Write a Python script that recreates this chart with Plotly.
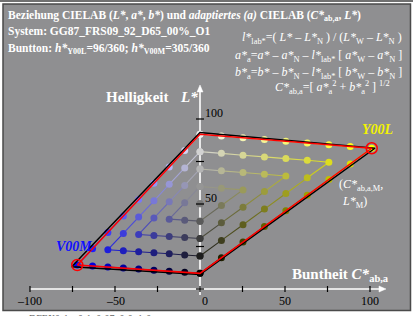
import plotly.graph_objects as go

# ---------------- data ----------------
# Right triangle (Y00L): chevron series, each from upper grey point via turning point to lower grey point
Y_C = [
    [0, 12.6, 25.3, 37.9, 50.5, 63.1, 75.8, 88.4, 101.0, 88.4, 75.8, 63.1, 50.5, 37.9, 25.3, 12.6, 0],
    [0, 12.6, 25.3, 37.9, 50.5, 63.1, 75.8, 63.1, 50.5, 37.9, 25.3, 12.6, 0],
    [0, 12.6, 25.3, 37.9, 50.5, 37.9, 25.3, 12.6, 0],
    [0, 12.6, 25.3, 12.6, 0],
    [0],
]
Y_L = [
    [91.0, 90.0, 89.0, 87.9, 86.9, 85.9, 84.9, 83.8, 82.8, 73.6, 64.4, 55.2, 46.0, 36.8, 27.6, 18.4, 9.2],
    [80.8, 79.8, 78.7, 77.7, 76.7, 75.7, 74.6, 65.4, 56.2, 47.0, 37.8, 28.6, 19.4],
    [70.6, 69.5, 68.5, 67.5, 66.5, 57.3, 48.1, 38.9, 29.7],
    [60.3, 59.3, 58.3, 49.1, 39.9],
    [50.1],
]
# Left triangle (V00M)
V_C = [
    [0, -9.0, -18.1, -27.1, -36.1, -45.1, -54.2, -63.2, -72.2, -63.2, -54.2, -45.1, -36.1, -27.1, -18.1, -9.0, 0],
    [0, -9.0, -18.1, -27.1, -36.1, -45.1, -54.2, -45.1, -36.1, -27.1, -18.1, -9.0, 0],
    [0, -9.0, -18.1, -27.1, -36.1, -27.1, -18.1, -9.0, 0],
    [0, -9.0, -18.1, -9.0, 0],
    [0],
]
V_L = [
    [91.0, 81.4, 71.8, 62.2, 52.6, 42.9, 33.3, 23.7, 14.1, 13.5, 12.9, 12.3, 11.7, 11.0, 10.4, 9.8, 9.2],
    [80.8, 71.2, 61.6, 51.9, 42.3, 32.7, 23.1, 22.5, 21.9, 21.3, 20.7, 20.0, 19.4],
    [70.6, 60.9, 51.3, 41.7, 32.1, 31.5, 30.9, 30.3, 29.7],
    [60.3, 50.7, 41.1, 40.5, 39.9],
    [50.1],
]
# outlines
BLACK_C = [-75.5, 0, 102.9, 0, -75.5]
BLACK_L = [13.1, 92.0, 82.8, 8.6, 13.1]
RED_C = [-72.2, 0, 101.0, 0, -72.2]
RED_L = [14.1, 91.0, 82.8, 9.2, 14.1]
CORNER_C = [-72.2, 101.0]
CORNER_L = [14.1, 82.8]

X_TICKS = [-100, -75, -50, -25, 0, 25, 50, 75, 100]
X_LABELS = {-100: "\u2013100", -50: "\u201350", 0: "0", 50: "50", 100: "100"}
Y_TICKS = [0, 25, 50, 75, 100]
Y_LABELS = {50: "50", 100: "100"}

# ---------------- geometry helpers ----------------
W, H = 413, 316
X0, Y0, S = 200.0, 289.0, 1.7   # pixel of origin, px per unit


def px(x):
    return x / W


def py(y):
    return 1 - y / H


FONT = "Liberation Serif"
fig = go.Figure()

BLACK_RGB = (0, 0, 0)
WHITE_RGB = (240, 240, 240)


def mix_fracs(k):
    """(n, w, c) counts along chevron k."""
    out = []
    for c in range(0, 9 - 2 * k):
        out.append((k, 8 - k - c, c))
    for n in range(k + 1, 9 - k):
        out.append((n, k, 8 - k - n))
    return out


def rgb(f, col):
    n, w, c = f
    vals = [(n * BLACK_RGB[i] + w * WHITE_RGB[i] + c * col[i]) / 8 for i in range(3)]
    return vals


def tocss(v):
    return "rgb(%d,%d,%d)" % tuple(int(round(x)) for x in v)


def draw_side(CC, LL, col):
    mx, my, mc = [], [], []
    for k in range(len(CC)):
        fr = mix_fracs(k)
        cols = [rgb(f, col) for f in fr]
        for i in range(len(CC[k]) - 1):
            avg = [(cols[i][j] + cols[i + 1][j]) / 2 for j in range(3)]
            fig.add_trace(go.Scatter(x=[CC[k][i], CC[k][i + 1]], y=[LL[k][i], LL[k][i + 1]],
                                     mode="lines", line=dict(color=tocss(avg), width=1.1),
                                     hoverinfo="skip"))
        mx += CC[k]
        my += LL[k]
        mc += [tocss(c) for c in cols]
    return mx, my, mc


vx, vy, vc = draw_side(V_C, V_L, (0, 0, 255))
yx, yy, yc = draw_side(Y_C, Y_L, (255, 255, 0))
fig.add_trace(go.Scatter(x=vx + yx, y=vy + yy, mode="markers",
                         marker=dict(size=7, color=vc + yc, line=dict(width=0)),
                         hoverinfo="skip"))
fig.add_trace(go.Scatter(x=BLACK_C, y=BLACK_L, mode="lines",
                         line=dict(color="black", width=1.5), hoverinfo="skip"))
fig.add_trace(go.Scatter(x=RED_C, y=RED_L, mode="lines",
                         line=dict(color="red", width=1.5), hoverinfo="skip"))
fig.add_trace(go.Scatter(x=CORNER_C, y=CORNER_L, mode="markers",
                         marker=dict(size=11, color="rgba(0,0,0,0)", line=dict(color="red", width=1.5)),
                         hoverinfo="skip"))

# ---------------- shapes ----------------
shapes = []
shapes.append(dict(type="rect", xref="paper", yref="paper", x0=px(3), x1=px(410.5), y0=py(310.5), y1=py(4),
                   fillcolor="#8f8f91", line=dict(color="#4a4a4a", width=1.5), layer="below"))
shapes.append(dict(type="line", xref="paper", yref="paper", x0=0, x1=1, y0=py(1), y1=py(1),
                   line=dict(color="#707070", width=2), layer="below"))
# axes
u = 1 / S
shapes.append(dict(type="line", x0=-100, x1=106, y0=0, y1=0, line=dict(color="white", width=1.6), layer="below"))
shapes.append(dict(type="path", path="M %f,%f L %f,%f L %f,%f Z" % (
    109.4, 0, 105.3, 3 * u, 105.3, -3 * u), fillcolor="white", line=dict(color="white", width=0.5), layer="below"))
shapes.append(dict(type="line", x0=0, x1=0, y0=-3.5, y1=117, line=dict(color="white", width=1.6), layer="below"))
shapes.append(dict(type="path", path="M %f,%f L %f,%f L %f,%f Z" % (
    0, 120.0, 3 * u, 115.9, -3 * u, 115.9), fillcolor="white", line=dict(color="white", width=0.5), layer="below"))
for t in X_TICKS:
    shapes.append(dict(type="line", x0=t, x1=t, y0=-3 * u, y1=3 * u, line=dict(color="black", width=1.2)))
for t in Y_TICKS:
    shapes.append(dict(type="line", x0=-4 * u, x1=4 * u, y0=t, y1=t, line=dict(color="black", width=1.2)))

annotations = []


def ann(text, x, y, size, color="white", xanchor="left", yanchor="middle"):
    annotations.append(dict(text=text, xref="paper", yref="paper", x=px(x), y=py(y), showarrow=False,
                            xanchor=xanchor, yanchor=yanchor, align="left",
                            font=dict(family=FONT, size=size, color=color)))


for t, lab in X_LABELS.items():
    ann(lab, X0 + S * t + (5 if t == 0 else 0), 301, 12, "black", "center")
for t, lab in Y_LABELS.items():
    ann(lab, 202.5, Y0 - S * t - 6, 12, "black", "left")

ann("<b>Beziehung CIELAB (<i>L*</i>, <i>a*</i>, <i>b*</i>) und <i>adaptiertes (a)</i> CIELAB "
    "(<i>C*</i><sub>ab,a</sub>, <i>L*</i>)</b>", 6, 16, 11.5)
ann("<b>System: GG87_FRS09_92_D65_00%_O1</b>", 6, 32, 11.5)
ann("<b>Buntton: <i>h*</i><sub>Y00L</sub>=96/360; <i>h*</i><sub>V00M</sub>=305/360</b>", 6, 49, 11.5)
ann("<i>l*</i><sub>lab*</sub>=( <i>L*</i> \u2013 <i>L*</i><sub>N</sub> ) / (<i>L*</i><sub>W</sub> \u2013 <i>L*</i><sub>N</sub> )",
    404, 38, 12, "white", "right")
ann("<i>a*</i><sub>a</sub>=<i>a*</i> \u2013 <i>a*</i><sub>N</sub> \u2013 <i>l*</i><sub>lab*</sub> [ <i>a*</i><sub>W</sub> \u2013 <i>a*</i><sub>N</sub> ]",
    404, 56, 12, "white", "right")
ann("<i>b*</i><sub>a</sub>=<i>b*</i> \u2013 <i>b*</i><sub>N</sub> \u2013 <i>l*</i><sub>lab*</sub> [ <i>b*</i><sub>W</sub> \u2013 <i>b*</i><sub>N</sub> ]",
    404, 73, 12, "white", "right")
ann("<i>C*</i><sub>ab,a</sub>=[ <i>a*</i><sub>a</sub><sup>2</sup> + <i>b*</i><sub>a</sub><sup>2</sup> ] <sup>1/2</sup>",
    392, 88, 12, "white", "right")

ann("<b>Helligkeit</b>", 104, 97, 15)
ann("<b><i>L*</i></b>", 178, 97, 15)
ann("<b>Buntheit <i>C*</i><sub>ab,a</sub></b>", 290, 275, 15)
ann("<b><i>Y00L</i></b>", 360, 129, 14, "#f2f200")
ann("<b><i>V00M</i></b>", 54, 246, 14, "#1010ff")
ann("(<i>C*</i><sub>ab,a,M</sub>,", 337, 185, 12)
ann("<i>L*</i><sub>M</sub>)", 340, 202, 12)
ann("DFEX0-1a_0-1_0-07_0-0_1-0", 27, 318, 10, "#666666")

fig.update_layout(
    width=W, height=H, autosize=False,
    margin=dict(l=0, r=0, t=0, b=0, pad=0),
    paper_bgcolor="white", plot_bgcolor="rgba(0,0,0,0)",
    showlegend=False,
    xaxis=dict(range=[-X0 / S, (W - X0) / S], visible=False, fixedrange=True),
    yaxis=dict(range=[(Y0 - H) / S, Y0 / S], visible=False, fixedrange=True),
    shapes=shapes, annotations=annotations,
)

fig.write_html("out.html", config={"displayModeBar": False},
               post_script="document.body.style.margin='0';")
